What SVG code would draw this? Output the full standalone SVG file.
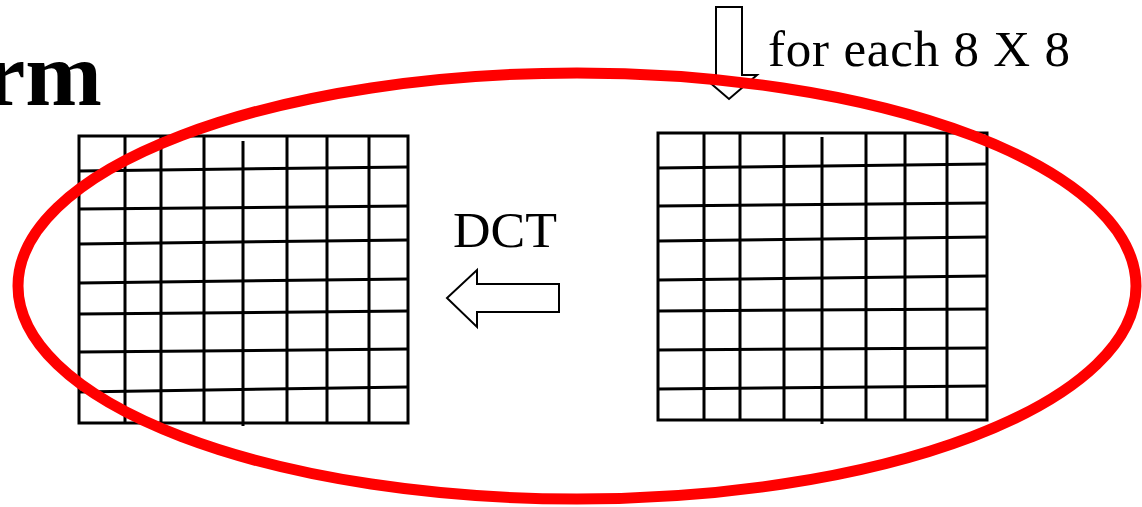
<svg xmlns="http://www.w3.org/2000/svg" width="1142" height="507" viewBox="0 0 1142 507">
  <style>
    .grid line, .grid rect { stroke: #000; stroke-width: 3; fill: none; }
    .arrow { fill: #fff; stroke: #000; stroke-width: 2; stroke-linejoin: miter; }
    .label { font-family: "Liberation Serif", "Times New Roman", serif; font-size: 51px; fill: #000; }
    .title { font-family: "Liberation Serif", "Times New Roman", serif; font-size: 92px; font-weight: bold; fill: #000; }
  </style>
  <rect x="0" y="0" width="1142" height="507" fill="#fff"/>

  <!-- heading fragment -->
  <g id="title">
    <text class="title" x="102" y="105" text-anchor="end">rm</text>
  </g>

  <!-- 8x8 coefficient block (output of the transform) -->
  <g id="block-left" class="grid">
    <rect x="79" y="136" width="329" height="287"/>
    <line x1="125" y1="136" x2="125" y2="423"/>
    <line x1="161" y1="136" x2="161" y2="423"/>
    <line x1="204" y1="136" x2="204" y2="423"/>
    <line x1="243" y1="141" x2="243" y2="426"/>
    <line x1="287" y1="136" x2="287" y2="423"/>
    <line x1="327" y1="136" x2="327" y2="423"/>
    <line x1="369" y1="136" x2="369" y2="423"/>
    <line x1="79" y1="171" x2="408" y2="167"/>
    <line x1="79" y1="209" x2="408" y2="206"/>
    <line x1="79" y1="244" x2="408" y2="240"/>
    <line x1="79" y1="283" x2="408" y2="279"/>
    <line x1="79" y1="314" x2="408" y2="311"/>
    <line x1="79" y1="352" x2="408" y2="349"/>
    <line x1="79" y1="392" x2="408" y2="387"/>
  </g>

  <!-- 8x8 pixel block (input) -->
  <g id="block-right" class="grid">
    <rect x="658" y="133" width="329" height="287"/>
    <line x1="704" y1="133" x2="704" y2="420"/>
    <line x1="740" y1="133" x2="740" y2="420"/>
    <line x1="784" y1="133" x2="784" y2="420"/>
    <line x1="822" y1="137" x2="822" y2="424"/>
    <line x1="866" y1="133" x2="866" y2="420"/>
    <line x1="905" y1="133" x2="905" y2="420"/>
    <line x1="947" y1="133" x2="947" y2="420"/>
    <line x1="658" y1="168" x2="987" y2="164"/>
    <line x1="658" y1="206" x2="987" y2="203"/>
    <line x1="658" y1="241" x2="987" y2="237"/>
    <line x1="658" y1="280" x2="987" y2="276"/>
    <line x1="658" y1="311" x2="987" y2="309"/>
    <line x1="658" y1="350" x2="987" y2="348"/>
    <line x1="658" y1="389" x2="987" y2="386"/>
  </g>

  <!-- block arrows and their labels -->
  <g id="connectors">
    <path class="arrow" d="M716,7 H742 V75 H757 L729,99 L701,75 H716 Z"/>
    <path class="arrow" d="M559,284 V312 H477 V327 L447,298 L477,270 V284 Z"/>
  </g>
  <g id="label-each">
    <text class="label" x="768" y="66" textLength="302" lengthAdjust="spacing">for each 8 X 8</text>
  </g>
  <g id="label-dct">
    <text class="label" x="453" y="247" textLength="104" lengthAdjust="spacingAndGlyphs">DCT</text>
  </g>

  <!-- highlight ring -->
  <g id="highlight">
    <ellipse cx="577" cy="286" rx="559" ry="213" fill="none" stroke="#ff0000" stroke-width="11"/>
  </g>
</svg>
